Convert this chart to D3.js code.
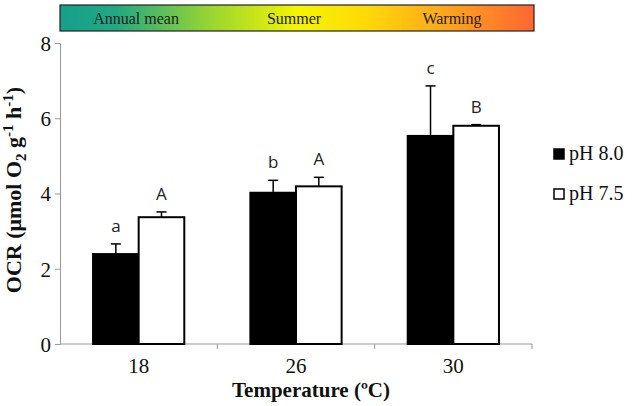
<!DOCTYPE html>
<html><head><meta charset="utf-8">
<script src="https://cdn.jsdelivr.net/npm/d3@7"></script>
<style>body{margin:0;background:#fff}</style>
</head><body><svg id="c" width="633" height="406"></svg>
<script>
const categories = ["18", "26", "30"];
const seriesNames = ["pH 8.0", "pH 7.5"];
const meanPH80 = [2.39, 4.02, 5.53];
const meanPH75 = [3.37, 4.19, 5.80];
const errPH80 = [0.27, 0.33, 1.33];
const errPH75 = [0.14, 0.24, 0.03];
const lettersPH80 = ["a", "b", "c"];
const lettersPH75 = ["A", "A", "B"];
const yTicks = [0, 2, 4, 6, 8];
const bandLabels = ["Annual mean", "Summer", "Warming"];

const SERIF = "'Liberation Serif', 'DejaVu Serif', serif";
const svg = d3.select("#c");
const mLeft = 60, mRight = 532, mTop = 43, mBottom = 344;
const x = d3.scaleBand().domain(categories).range([mLeft, mRight]).paddingInner(0.42).paddingOuter(0.21);
const xs = d3.scaleBand().domain(seriesNames).range([0, x.bandwidth()]);
const y = d3.scaleLinear().domain([0, 8]).range([mBottom, mTop]);

// gradient header
const defs = svg.append("defs");
const g = defs.append("linearGradient").attr("id", "grad");
[["0%", "#16a08c"], ["12%", "#22a882"], ["30%", "#8fd236"], ["50%", "#f4f500"], ["65%", "#ffd808"], ["80%", "#ffaa1a"], ["100%", "#ff6632"]]
  .forEach(([o, c]) => g.append("stop").attr("offset", o).attr("stop-color", c));
svg.append("rect").attr("x", 60).attr("y", 5).attr("width", 474).attr("height", 26)
  .attr("fill", "url(#grad)").attr("stroke", "#222").attr("stroke-width", 1.2);
const bandX = d3.scalePoint().domain(bandLabels).range([136, 452]);
svg.selectAll(".bl").data(bandLabels).join("text")
  .attr("x", d => bandX(d)).attr("y", 24).attr("text-anchor", "middle")
  .style("font-family", SERIF).attr("font-size", 16)
  .attr("fill", "#222").text(d => d);

// axes
const yAxis = d3.axisLeft(y).tickValues(yTicks).tickSize(5).tickFormat(d3.format("d"));
const ya = svg.append("g").attr("transform", `translate(${mLeft},0)`).call(yAxis);
ya.select(".domain").attr("stroke", "#999");
ya.selectAll(".tick line").attr("stroke", "#999");
ya.selectAll(".tick text").style("font-family", SERIF)
  .attr("font-size", 21).attr("fill", "#111").attr("x", -9).attr("dy", "0.35em");

const xa = svg.append("g").attr("transform", `translate(0,${mBottom})`);
xa.append("line").attr("x1", mLeft).attr("x2", mRight).attr("stroke", "#999");
const step = x.step();
const seps = categories.map(c => x(c) + x.bandwidth() + step * 0.42 / 2);
xa.selectAll(".sep").data(seps).join("line")
  .attr("x1", d => d).attr("x2", d => d).attr("y1", 0).attr("y2", 5).attr("stroke", "#999");
xa.selectAll(".xl").data(categories).join("text")
  .attr("x", d => x(d) + x.bandwidth() / 2).attr("y", 29).attr("text-anchor", "middle")
  .style("font-family", SERIF).attr("font-size", 21)
  .attr("fill", "#111").text(d => d);

// bars
const data = categories.map((c, i) => [
  {c, s: seriesNames[0], v: meanPH80[i], e: errPH80[i], l: lettersPH80[i], fill: "#000"},
  {c, s: seriesNames[1], v: meanPH75[i], e: errPH75[i], l: lettersPH75[i], fill: "#fff"}
]).flat();
const bx = d => x(d.c) + xs(d.s);
svg.selectAll(".bar").data(data).join("rect")
  .attr("x", bx).attr("y", d => y(d.v)).attr("width", xs.bandwidth()).attr("height", d => y(0) - y(d.v))
  .attr("fill", d => d.fill).attr("stroke", "#000").attr("stroke-width", 2);
svg.selectAll(".err").data(data).join("line")
  .attr("x1", d => bx(d) + xs.bandwidth() / 2).attr("x2", d => bx(d) + xs.bandwidth() / 2)
  .attr("y1", d => y(d.v)).attr("y2", d => y(d.v + d.e)).attr("stroke", "#000").attr("stroke-width", 1.5);
svg.selectAll(".cap").data(data).join("line")
  .attr("x1", d => bx(d) + xs.bandwidth() / 2 - 5).attr("x2", d => bx(d) + xs.bandwidth() / 2 + 5)
  .attr("y1", d => y(d.v + d.e)).attr("y2", d => y(d.v + d.e)).attr("stroke", "#000").attr("stroke-width", 1.5);
svg.selectAll(".let").data(data).join("text")
  .attr("x", d => bx(d) + xs.bandwidth() / 2).attr("y", d => y(d.v + d.e) - 12)
  .attr("text-anchor", "middle").style("font-family", "'Open Sans', 'DejaVu Sans', sans-serif")
  .attr("font-size", 17).attr("fill", "#222").text(d => d.l);

// axis titles
const yt = svg.append("text").attr("transform", "translate(21,190) rotate(-90)")
  .attr("text-anchor", "middle").style("font-family", SERIF)
  .attr("font-size", 22).attr("font-weight", "bold").attr("fill", "#111");
yt.append("tspan").text("OCR (μmol O");
yt.append("tspan").attr("font-size", 15).attr("dy", 5).text("2");
yt.append("tspan").attr("dy", -5).text(" g");
yt.append("tspan").attr("font-size", 15).attr("dy", -8).text("-1");
yt.append("tspan").attr("dy", 8).text(" h");
yt.append("tspan").attr("font-size", 15).attr("dy", -8).text("-1");
yt.append("tspan").attr("dy", 8).text(")");
svg.append("text").attr("x", 311).attr("y", 397).attr("text-anchor", "middle")
  .style("font-family", SERIF).attr("font-size", 21)
  .attr("font-weight", "bold").attr("fill", "#111").text("Temperature (ºC)");

// legend
const leg = svg.selectAll(".lg").data(seriesNames).join("g")
  .attr("transform", (d, i) => `translate(554,${149 + i * 40})`);
leg.append("rect").attr("width", 10).attr("height", 10)
  .attr("fill", (d, i) => i === 0 ? "#000" : "#fff").attr("stroke", "#000").attr("stroke-width", 1.5);
leg.append("text").attr("x", 15).attr("y", 11).style("font-family", SERIF)
  .attr("font-size", 20).attr("fill", "#111").text(d => d);
</script></body></html>
